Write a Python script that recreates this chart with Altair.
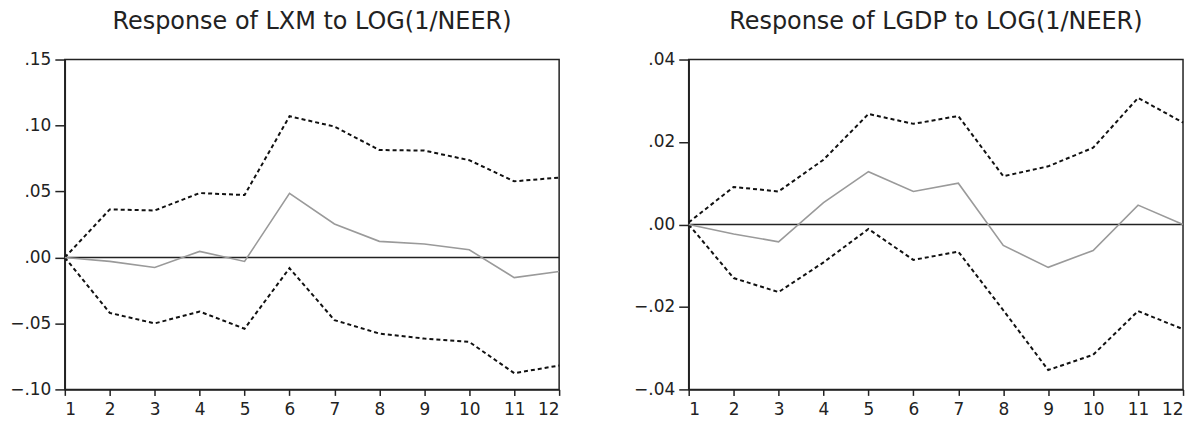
import altair as alt
import pandas as pd

periods = list(range(1, 13))

lxm_upper = [0.000, 0.0364, 0.0356, 0.0488, 0.0473, 0.1070, 0.0992, 0.0814, 0.0810, 0.0737, 0.0577, 0.0605]
lxm_resp = [0.000, -0.0030, -0.0076, 0.0046, -0.0030, 0.0486, 0.0254, 0.0122, 0.0102, 0.0058, -0.0153, -0.0107]
lxm_lower = [0.000, -0.0420, -0.0500, -0.0410, -0.0540, -0.0081, -0.0475, -0.0577, -0.0615, -0.0640, -0.0877, -0.0819]

lgdp_upper = [0.0005, 0.0091, 0.0080, 0.0157, 0.0268, 0.0244, 0.0263, 0.0117, 0.0141, 0.0186, 0.0307, 0.0247]
lgdp_resp = [0.000, -0.0023, -0.0042, 0.0053, 0.0128, 0.0080, 0.0100, -0.0051, -0.0104, -0.0063, 0.0047, 0.0000]
lgdp_lower = [0.000, -0.0130, -0.0164, -0.0092, -0.0011, -0.0086, -0.0066, -0.0208, -0.0353, -0.0316, -0.0210, -0.0254]

lxm_ticks = [-0.10, -0.05, 0.00, 0.05, 0.10, 0.15]
lgdp_ticks = [-0.04, -0.02, 0.00, 0.02, 0.04]

titles = ["Response of LXM to LOG(1/NEER)", "Response of LGDP to LOG(1/NEER)"]

FONT = "DejaVu Sans"
LABEL_EXPR = "replace(format(datum.value, '.2f'), '0.', '.')"


def panel(upper, resp, lower, ticks, title):
    df = pd.DataFrame({"period": periods, "upper": upper, "resp": resp, "lower": lower})
    dom = [min(ticks), max(ticks)]
    x = alt.X("period:Q", scale=alt.Scale(domain=[1, 12], nice=False, zero=False),
              axis=alt.Axis(values=periods, title=None, grid=False, labelAngle=0,
                            tickSize=6, labelPadding=6, domainColor="#222", tickColor="#222",
                            domainWidth=1.5, tickWidth=1.5, labelFont=FONT,
                            labelFontSize=17, labelColor="#222"))
    yax = alt.Axis(values=ticks, title=None, grid=False, labelExpr=LABEL_EXPR,
                   tickSize=10, labelPadding=4, domainColor="#222", tickColor="#222",
                   domainWidth=1.5, tickWidth=1.5, labelFont=FONT,
                   labelFontSize=17, labelColor="#222")
    base = alt.Chart(df)
    zero = alt.Chart(pd.DataFrame({"z": [0.0]})).mark_rule(color="#222", strokeWidth=1.5).encode(
        y=alt.Y("z:Q", scale=alt.Scale(domain=dom, nice=False), axis=yax))
    up = base.mark_line(color="#111", strokeWidth=2, strokeDash=[4, 3]).encode(
        x=x, y=alt.Y("upper:Q", scale=alt.Scale(domain=dom, nice=False), axis=yax))
    lo = base.mark_line(color="#111", strokeWidth=2, strokeDash=[4, 3]).encode(
        x=x, y=alt.Y("lower:Q", scale=alt.Scale(domain=dom, nice=False), axis=yax))
    rs = base.mark_line(color="#9a9a9a", strokeWidth=1.6).encode(
        x=x, y=alt.Y("resp:Q", scale=alt.Scale(domain=dom, nice=False), axis=yax))
    return alt.layer(zero, up, lo, rs).properties(
        width=496, height=331,
        title=alt.TitleParams(title, fontSize=24, font=FONT, fontWeight="normal",
                              color="#222", offset=17, anchor="middle"))


left = panel(lxm_upper, lxm_resp, lxm_lower, lxm_ticks, titles[0])
right = panel(lgdp_upper, lgdp_resp, lgdp_lower, lgdp_ticks, titles[1])

chart = alt.hconcat(left, right, spacing=68).properties(
    padding={"left": 0, "top": 0, "right": 2, "bottom": 0},
    background="white"
).configure_view(stroke="#222", strokeWidth=1.5)

chart.save("out.html", embed_options={"renderer": "svg", "actions": False})
